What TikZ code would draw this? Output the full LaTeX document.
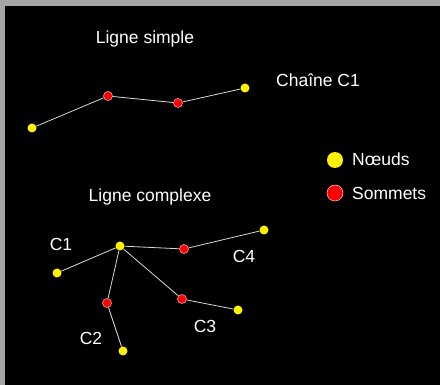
\documentclass[tikz,border=0pt]{standalone}
\usepackage{fontspec}
\setmainfont{Liberation Sans}
\usepackage{tikz}

\tikzset{
  noeud/.style={circle, fill=yellow, inner sep=0pt, minimum size=9pt},
  sommet/.style={circle, fill=red, draw=red!30, line width=.5pt, inner sep=0pt, minimum size=9pt},
  lien/.style={draw=white!85!black, line width=.8pt},
  etiq/.style={text=white, font=\fontsize{17.5}{20}\selectfont}
}

\begin{document}
\begin{tikzpicture}[x=1pt, y=-1pt]
\fill[black] (0,0) rectangle (440,385);
\fill[gray!70] (0,0) rectangle (440,6);
\fill[gray!70] (0,0) rectangle (5,385);
\useasboundingbox (0,0) rectangle (440,385);

% ligne simple
\node[etiq] (titreA) at (145,39){Ligne simple};
\node[etiq] (chaine) at (318,80){Chaîne C1};
\node[noeud] (a1) at (32,128){};
\node[sommet] (a2) at (108,96){};
\node[sommet] (a3) at (178,103){};
\node[noeud] (a4) at (245,88){};
\draw[lien] (a1) -- (a2) -- (a3) -- (a4);

% ligne complexe
\node[etiq] (titreB) at (150,197){Ligne complexe};
\node[noeud] (hub) at (120,246){};
\node[noeud] (b1) at (57,273){};
\node[sommet] (c4a) at (184,249){};
\node[noeud] (c4b) at (264,230){};
\node[sommet] (c2a) at (107,303){};
\node[noeud] (c2b) at (123,351){};
\node[sommet] (c3a) at (182,299){};
\node[noeud] (c3b) at (238,310){};
\draw[lien] (b1) -- (hub);
\draw[lien] (hub) -- (c4a) -- (c4b);
\draw[lien] (hub) -- (c2a) -- (c2b);
\draw[lien] (hub) -- (c3a) -- (c3b);
\node[etiq] (lc1) at (61,244){C1};
\node[etiq] (lc4) at (244,256){C4};
\node[etiq] (lc2) at (91,338){C2};
\node[etiq] (lc3) at (205,326){C3};

% legende
\node[noeud, minimum size=16pt] (legA) at (335,160){};
\node[sommet, minimum size=16pt, draw=white!80!red] (legB) at (335,193){};
\node[etiq, anchor=west, inner sep=0pt] (txtA) at (352,159){Nœuds};
\node[etiq, anchor=west, inner sep=0pt] (txtB) at (352,193){Sommets};
\end{tikzpicture}
\end{document}
